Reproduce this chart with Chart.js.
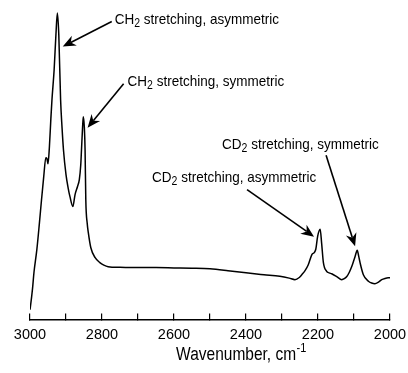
<!DOCTYPE html>
<html>
<head>
<meta charset="utf-8">
<script src="https://cdn.jsdelivr.net/npm/chart.js@4/dist/chart.umd.min.js"></script>
<style>
  html, body { margin: 0; padding: 0; background: #fff; }
  canvas { display: block; }
</style>
</head>
<body>
<canvas id="ir" width="408" height="373"></canvas>
<script>
// IR spectrum of the partially deuterated film, 3000–2000 cm-1
const wavenumbers = [
  3000, 2999, 2993, 2989, 2981, 2974, 2968, 2962, 2956, 2953, 2950, 2946, 2942, 2939,
  2933, 2928, 2924, 2920, 2915, 2911, 2907, 2900, 2894, 2889, 2881, 2875, 2868, 2863,
  2859, 2857, 2854, 2852, 2849, 2847, 2845, 2841, 2838, 2831, 2819, 2806, 2795, 2783,
  2750, 2700, 2650, 2600, 2550, 2500, 2450, 2400, 2350, 2306, 2280, 2264, 2252, 2245,
  2236, 2227, 2217, 2210, 2206, 2201, 2194, 2190, 2185, 2176, 2169, 2162, 2148, 2134,
  2127, 2120, 2113, 2106, 2097, 2091, 2087, 2083, 2074, 2060, 2051, 2042, 2032, 2023,
  2014, 2005, 2000
];
const absorbance = [
  0.032, 0.040, 0.100, 0.152, 0.226, 0.310, 0.387, 0.460, 0.523, 0.520, 0.503, 0.560, 0.650, 0.710,
  0.806, 0.920, 0.990, 0.920, 0.710, 0.620, 0.548, 0.468, 0.425, 0.397, 0.365, 0.403, 0.430, 0.452,
  0.500, 0.548, 0.620, 0.655, 0.620, 0.548, 0.387, 0.310, 0.281, 0.232, 0.200, 0.184, 0.176, 0.171,
  0.169, 0.168, 0.168, 0.167, 0.166, 0.164, 0.158, 0.151, 0.145, 0.140, 0.134, 0.129, 0.136, 0.145,
  0.158, 0.177, 0.210, 0.217, 0.228, 0.269, 0.292, 0.248, 0.184, 0.156, 0.151, 0.148, 0.139, 0.129,
  0.132, 0.139, 0.153, 0.172, 0.204, 0.224, 0.205, 0.183, 0.145, 0.124, 0.118, 0.116, 0.121, 0.129,
  0.133, 0.135, 0.135
];
const tickLabels = ['3000', '2800', '2600', '2400', '2200', '2000'];

// Band assignments: text pieces and the point each arrow points at
const bandGroups = ['CH', 'CH', 'CD', 'CD'];
const bandModes = [' stretching, asymmetric', ' stretching, symmetric', ' stretching, asymmetric', ' stretching, symmetric'];
const bandWavenumbers = [2909, 2840, 2211, 2097];
const bandAbsorbance = [0.882, 0.620, 0.268, 0.237];

const axisTitle = 'Wavenumber, cm';
const axisTitleSup = '-1';

// Arrow tail and label anchor, as pixel offsets from the arrow tip
const bandLayout = [
  { tail: [49, -25], text: [52, -27] },
  { tail: [36, -44], text: [40, -46] },
  { tail: [-67, -47], text: [-162, -59] },
  { tail: [-29, -91], text: [-133, -102] }
];

const FONT = '"Liberation Sans", Arial, Helvetica, sans-serif';
const STRETCH = 1.15;

function drawScaledText(ctx, str, x, y, size) {
  ctx.save();
  ctx.font = size + 'px ' + FONT;
  ctx.translate(x, y);
  ctx.scale(1, STRETCH);
  ctx.fillText(str, 0, 0);
  ctx.restore();
  ctx.font = size + 'px ' + FONT;
  return ctx.measureText(str).width;
}

function drawArrow(ctx, x0, y0, x1, y1) {
  const ang = Math.atan2(y1 - y0, x1 - x0);
  const len = 13, half = 5.5, notch = 9;
  const bx = x1 - Math.cos(ang) * notch, by = y1 - Math.sin(ang) * notch;
  ctx.beginPath();
  ctx.moveTo(x0, y0);
  ctx.lineTo(bx, by);
  ctx.lineWidth = 1.6;
  ctx.strokeStyle = '#000';
  ctx.stroke();
  const cx = x1 - Math.cos(ang) * len, cy = y1 - Math.sin(ang) * len;
  const px = -Math.sin(ang) * half, py = Math.cos(ang) * half;
  ctx.beginPath();
  ctx.moveTo(x1, y1);
  ctx.lineTo(cx + px, cy + py);
  ctx.lineTo(bx, by);
  ctx.lineTo(cx - px, cy - py);
  ctx.closePath();
  ctx.fillStyle = '#000';
  ctx.fill();
}

const bandLabels = {
  id: 'bandLabels',
  afterDraw(chart) {
    const { ctx, scales } = chart;
    ctx.save();
    ctx.fillStyle = '#000';
    ctx.textBaseline = 'middle';
    ctx.textAlign = 'left';
    bandGroups.forEach((g, i) => {
      const tx = scales.x.getPixelForValue(bandWavenumbers[i]);
      const ty = scales.y.getPixelForValue(bandAbsorbance[i]);
      const lay = bandLayout[i];
      drawArrow(ctx, tx + lay.tail[0], ty + lay.tail[1], tx, ty);
      let x = tx + lay.text[0];
      const y = ty + lay.text[1];
      x += drawScaledText(ctx, g, x, y, 13.5);
      x += drawScaledText(ctx, '2', x, y + 4, 10.5);
      drawScaledText(ctx, bandModes[i], x, y, 13.5);
    });

    // axis title with superscript
    const ca = chart.chartArea;
    ctx.font = '15.5px ' + FONT;
    const w1 = ctx.measureText(axisTitle).width;
    ctx.font = '11px ' + FONT;
    const w2 = ctx.measureText(axisTitleSup).width;
    let x = (ca.left + ca.right) / 2 + 31 - (w1 + w2) / 2;
    const y = ca.bottom + 35;
    x += drawScaledText(ctx, axisTitle, x, y, 15.5);
    drawScaledText(ctx, axisTitleSup, x + 0.5, y - 6, 11);
    ctx.restore();
  }
};

new Chart(document.getElementById('ir'), {
  type: 'line',
  data: {
    datasets: [{
      data: wavenumbers.map((w, i) => ({ x: w, y: absorbance[i] })),
      borderColor: '#000',
      borderWidth: 1.5,
      pointRadius: 0,
      cubicInterpolationMode: 'monotone',
      fill: false
    }]
  },
  options: {
    responsive: false,
    animation: false,
    layout: { padding: { left: 30, right: 18, top: 10, bottom: 16 } },
    plugins: { legend: { display: false }, tooltip: { enabled: false } },
    scales: {
      x: {
        type: 'linear',
        reverse: true,
        min: 2000,
        max: 3000,
        border: { display: true, color: '#000', width: 1.5 },
        grid: { drawOnChartArea: false, drawTicks: true, tickLength: -6, color: '#000', lineWidth: 1.2 },
        ticks: {
          stepSize: 100,
          autoSkip: false,
          maxRotation: 0,
          padding: 13,
          color: '#000',
          font: { family: FONT, size: 14.5 },
          callback: v => tickLabels.includes(String(v)) ? String(v) : ''
        },
        afterFit(scale) {
          scale.paddingLeft = 0;
          scale.paddingRight = 0;
        }
      },
      y: { display: false, min: 0, max: 1 }
    }
  },
  plugins: [bandLabels]
});
</script>
</body>
</html>
